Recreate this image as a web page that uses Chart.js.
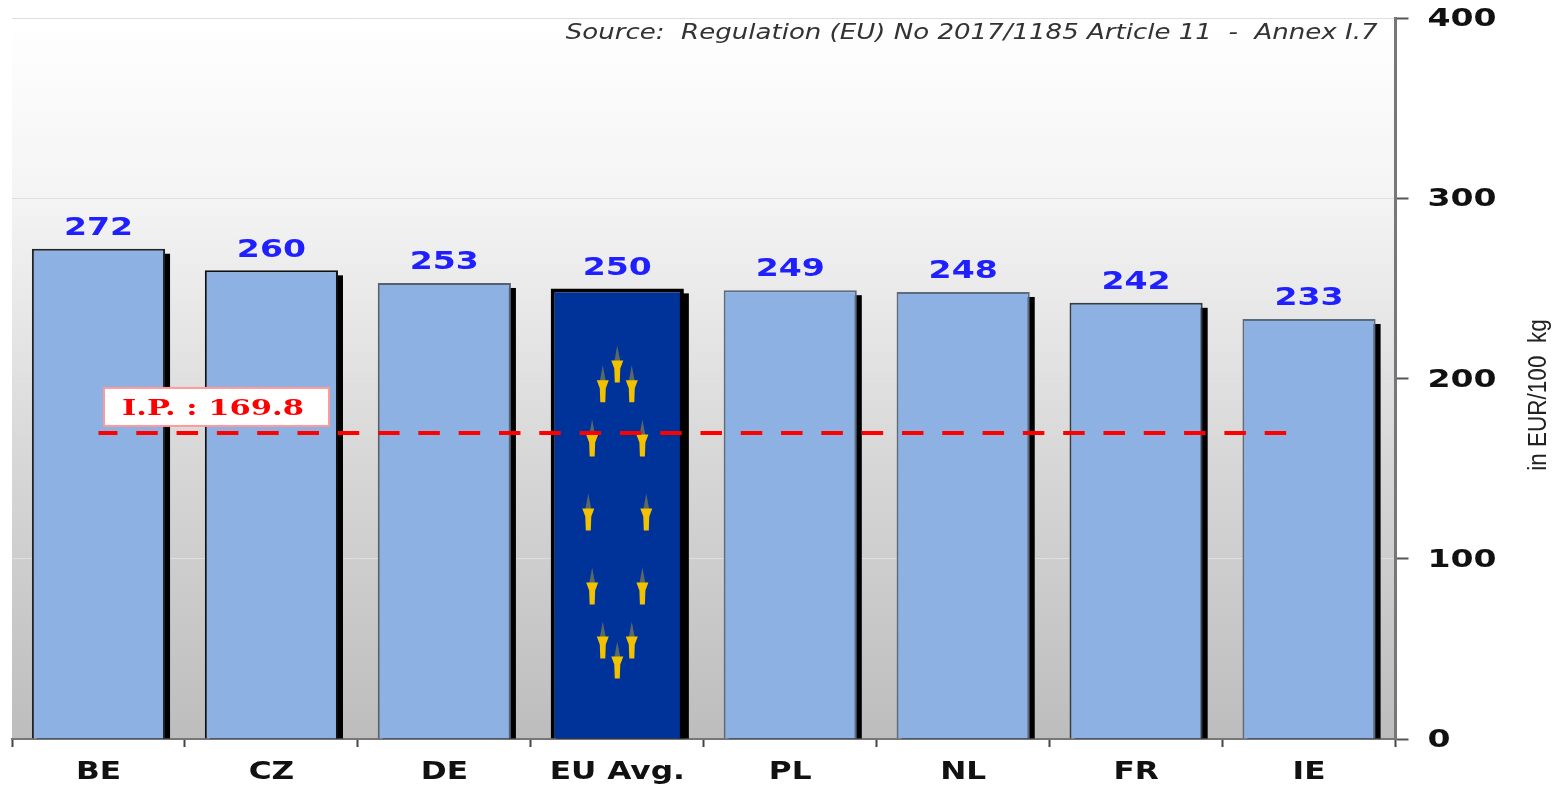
<!DOCTYPE html>
<html>
<head>
<meta charset="utf-8">
<title>Intervention price chart</title>
<script src="https://cdn.jsdelivr.net/npm/chart.js@4/dist/chart.umd.min.js"></script>
<style>
  html, body { margin: 0; padding: 0; background: #fff; }
  canvas { display: block; filter: blur(0.6px); }
</style>
</head>
<body>
<canvas id="my-chart" width="1565" height="786"></canvas>
<script>
'use strict'

let categories = ['BE', 'CZ', 'DE', 'EU Avg.', 'PL', 'NL', 'FR', 'IE'];
let prices = [272, 260, 253, 250, 249, 248, 242, 233];
let interventionPrice = [169.8, 169.8, 169.8, 169.8, 169.8, 169.8, 169.8, 169.8];
let yTicks = [0, 100, 200, 300, 400];

let barFills = ['#8db1e2', '#8db1e2', '#8db1e2', '#003399', '#8db1e2', '#8db1e2', '#8db1e2', '#8db1e2'];
let barEdges = ['#222222', '#111111', '#556070', '#000000', '#5d6b7d', '#5d6b7d', '#333b45', '#5d6b7d'];
let barEdgeWidths = [2, 2, 2, 4, 2, 2, 2, 2];

let sourceText = 'Source:  Regulation (EU) No 2017/1185 Article 11  -  Annex I.7';
let ipText = 'I.P. : 169.8';
let unitText = 'in EUR/100  kg';

let wideFont = 'bold 24px "DejaVu Sans"';

// the original text is stretched sideways, so every label goes through this
let canvasEl = document.getElementById('my-chart');
let chartContext = canvasEl.getContext('2d');
let plainFillText = chartContext.fillText.bind(chartContext);
let textStretch = 1.3;
chartContext.fillText = function (text, x, y) {
  let stretch = /^\d+$/.test(text) ? 1.38 : textStretch;
  chartContext.save();
  chartContext.translate(x, y + 2);
  chartContext.scale(stretch, 1);
  plainFillText(text, 0, 0);
  chartContext.restore();
};

function drawStar(ctx, x, y) {
  // faint tip above the head
  ctx.fillStyle = 'rgba(200, 170, 40, 0.45)';
  ctx.beginPath();
  ctx.moveTo(x, y - 22);
  ctx.lineTo(x + 3, y - 6);
  ctx.lineTo(x - 3, y - 6);
  ctx.closePath();
  ctx.fill();
  // head and tapered tail
  ctx.fillStyle = '#f2c200';
  ctx.beginPath();
  ctx.moveTo(x - 6, y - 7);
  ctx.lineTo(x + 6, y - 7);
  ctx.lineTo(x + 3, y + 1);
  ctx.lineTo(x + 2.5, y + 15);
  ctx.lineTo(x - 2.5, y + 15);
  ctx.lineTo(x - 3, y + 1);
  ctx.closePath();
  ctx.fill();
}

// background gradient has to go before the grid
let backgroundPlugin = {
  id: 'backgroundPlugin',
  beforeDraw(chart) {
    let ctx = chart.ctx;
    let area = chart.chartArea;
    let grad = ctx.createLinearGradient(0, area.top, 0, area.bottom);
    grad.addColorStop(0, '#ffffff');
    grad.addColorStop(0.25, '#f4f4f4');
    grad.addColorStop(0.6, '#d8d8d8');
    grad.addColorStop(1, '#bdbdbd');
    ctx.save();
    ctx.fillStyle = grad;
    ctx.fillRect(area.left, area.top, area.right - area.left, area.bottom - area.top);
    ctx.restore();
  },
};

// black drop shadow behind the bars, stars on top of the EU bar
let barExtrasPlugin = {
  id: 'barExtrasPlugin',
  beforeDatasetDraw(chart, args) {
    if (args.index !== 0) return;
    let ctx = chart.ctx;
    ctx.save();
    ctx.fillStyle = '#000';
    chart.getDatasetMeta(0).data.forEach(function (bar) {
      ctx.fillRect(bar.x - bar.width / 2 + 5, bar.y + 5, bar.width, bar.base - bar.y - 5);
    });
    ctx.restore();
  },
  afterDatasetDraw(chart, args) {
    if (args.index !== 0) return;
    let ctx = chart.ctx;
    let eu = chart.getDatasetMeta(0).data[categories.indexOf('EU Avg.')];
    let midY = (eu.y + eu.base) / 2;
    ctx.save();
    for (let i = 0; i < 12; i++) {
      let a = i * Math.PI / 6;
      drawStar(ctx, eu.x + Math.sin(a) * 29, midY - Math.cos(a) * 148 + 2);
    }
    ctx.restore();
  },
};

let annotationPlugin = {
  id: 'annotationPlugin',
  afterDatasetsDraw(chart) {
    let ctx = chart.ctx;
    let area = chart.chartArea;
    let bars = chart.getDatasetMeta(0).data;
    let yScale = chart.scales.y;

    ctx.save();

    // value labels
    ctx.font = wideFont;
    ctx.fillStyle = '#2020ff';
    ctx.textAlign = 'center';
    ctx.textBaseline = 'middle';
    bars.forEach(function (bar, i) {
      ctx.fillText(String(prices[i]), bar.x, bar.y - 22);
    });

    // intervention price box
    let ipY = yScale.getPixelForValue(interventionPrice[0]);
    ctx.fillStyle = '#fff';
    ctx.strokeStyle = '#ff9a9a';
    ctx.lineWidth = 2;
    ctx.fillRect(104, ipY - 45, 225, 38);
    ctx.strokeRect(104, ipY - 45, 225, 38);
    ctx.font = 'bold 23px "DejaVu Serif"';
    ctx.fillStyle = '#ff0000';
    textStretch = 1.33;
    ctx.fillText(ipText, 213, ipY - 26);

    // source note
    ctx.font = 'italic 21px "DejaVu Sans"';
    ctx.fillStyle = '#333';
    ctx.textAlign = 'right';
    textStretch = 1.24;
    ctx.fillText(sourceText, area.right - 18, 32);

    // unit label
    ctx.translate(1537, 395);
    ctx.rotate(-Math.PI / 2);
    ctx.font = '25px "Liberation Sans"';
    ctx.fillStyle = '#222';
    ctx.textAlign = 'center';
    textStretch = 0.9;
    ctx.fillText(unitText, 0, 0);

    ctx.restore();
    textStretch = 1.3;
  },
};

let chartConfig = {
  type: 'bar',
  data: {
    labels: categories,
    datasets: [{
      label: 'EUR/100 kg',
      data: prices,
      backgroundColor: barFills,
      borderColor: barEdges,
      borderWidth: barEdgeWidths,
      categoryPercentage: 1,
      barPercentage: 0.77,
      order: 2,
    }, {
      type: 'line',
      label: 'I.P.',
      data: interventionPrice,
      borderColor: '#ff0000',
      borderWidth: 4,
      borderDash: [21.5, 18.8],
      borderDashOffset: 2.5,
      pointRadius: 0,
      order: 1,
      clip: { left: 0, top: 0, right: -101, bottom: 0 },
    }],
  },
  options: {
    responsive: false,
    animation: false,
    layout: { padding: { left: 12, top: 18, right: 0, bottom: 0 } },
    plugins: { legend: { display: false }, tooltip: { enabled: false } },
    scales: {
      x: {
        afterFit(scale) { scale.height = 47; },
        border: { color: '#777', width: 2 },
        grid: { drawOnChartArea: false, tickLength: 8, tickColor: '#444', tickWidth: 2 },
        ticks: {
          padding: 9,
          maxRotation: 0,
          color: '#111',
          font: { family: 'DejaVu Sans', size: 24, weight: 'bold' },
        },
      },
      y: {
        position: 'right',
        min: 0,
        max: 400,
        afterFit(scale) { scale.width = 169.5; scale.paddingTop = 0; scale.paddingBottom = 0; },
        afterBuildTicks(scale) { scale.ticks = yTicks.map(function (v) { return { value: v }; }); },
        border: { color: '#777', width: 3 },
        grid: { color: '#dedede', tickLength: 13, tickColor: '#555', tickWidth: 2 },
        ticks: {
          padding: 19,
          color: '#111',
          font: { family: 'DejaVu Sans', size: 24, weight: 'bold' },
        },
      },
    },
  },
  plugins: [backgroundPlugin, barExtrasPlugin, annotationPlugin],
};

let myChart = new Chart(chartContext, chartConfig);
</script>
</body>
</html>
